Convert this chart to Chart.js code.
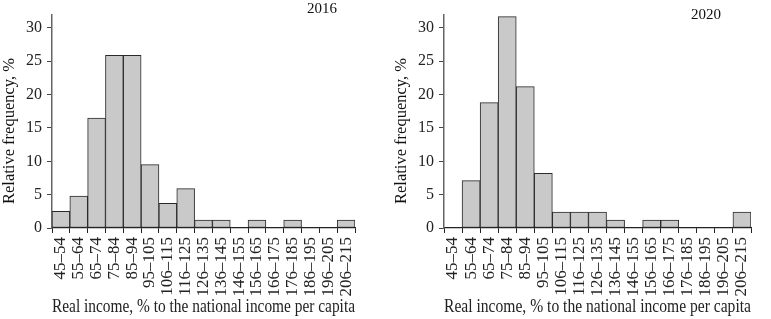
<!DOCTYPE html>
<html>
<head>
<meta charset="utf-8">
<script src="https://cdn.jsdelivr.net/npm/chart.js@4"></script>
<style>
  body { margin: 0; background: #fff; }
  .wrap { display: flex; width: 771px; height: 319px; }
  canvas { display: block; }
</style>
</head>
<body>
<div class="wrap">
  <canvas id="c2016" width="385" height="319"></canvas>
  <canvas id="c2020" width="386" height="319"></canvas>
</div>
<script>
const categories = ['45–54', '55–64', '65–74', '75–84', '85–94', '95–105', '106–115', '116–125',
  '126–135', '136–145', '146–155', '156–165', '166–175', '176–185', '186–195', '196–205', '206–215'];
const freq2016 = [2.5, 4.8, 16.5, 25.9, 25.9, 9.5, 3.7, 5.9, 1.2, 1.2, 0, 1.2, 0, 1.2, 0, 0, 1.2];
const freq2020 = [0, 7.1, 18.8, 31.7, 21.2, 8.2, 2.4, 2.4, 2.4, 1.2, 0, 1.2, 1.2, 0, 0, 0, 2.4];
const yTicks = [0, 5, 10, 15, 20, 25, 30];

const serif = 'Liberation Serif';

// year in the upper right corner and the vertical axis title
const labels = {
  id: 'labels',
  afterDraw(chart, args, opts) {
    const c = chart.ctx;
    c.save();
    c.fillStyle = '#111';
    c.textBaseline = 'middle';
    c.font = '15px "' + serif + '"';
    c.textAlign = 'left';
    c.fillText(opts.year, opts.yearX, opts.yearY);
    c.font = '16.5px "' + serif + '"';
    c.textAlign = 'center';
    c.translate(opts.titleX, opts.titleY);
    c.rotate(-Math.PI / 2);
    c.fillText('Relative frequency, %', 0, 0);
    c.restore();
  }
};

function makeChart(id, values, year, axisW, padRight, pos) {
  return new Chart(document.getElementById(id), {
    type: 'bar',
    data: {
      labels: categories,
      datasets: [{
        data: values,
        backgroundColor: '#c9c9c9',
        borderColor: '#2a2a2a',
        borderWidth: 1,
        borderSkipped: false,
        barPercentage: 1,
        categoryPercentage: 1,
      }]
    },
    options: {
      responsive: false,
      animation: false,
      layout: { padding: { top: 2, right: padRight, left: 0, bottom: 0 } },
      plugins: {
        legend: { display: false },
        tooltip: { enabled: false },
        labels: Object.assign({ year: year }, pos),
      },
      scales: {
        x: {
          grid: { offset: true, drawOnChartArea: false, tickLength: 5, color: '#222', lineWidth: 1 },
          border: { color: '#222', width: 1.2 },
          ticks: {
            minRotation: 90, maxRotation: 90, autoSkip: false, padding: 4,
            color: '#222', font: { family: serif, size: 17 },
          },
          title: {
            display: true,
            text: 'Real income, % to the national income per capita',
            color: '#222',
            font: { family: serif, size: 18 },
            padding: { top: 0, bottom: 1 },
          },
          afterFit(scale) { scale.height = 91; },
        },
        y: {
          min: 0, max: 32,
          afterBuildTicks(scale) { scale.ticks = yTicks.map(v => ({ value: v })); },
          grid: { drawOnChartArea: false, tickLength: 5, color: '#444' },
          border: { color: '#666', width: 1.5 },
          ticks: { color: '#222', padding: 5, font: { family: serif, size: 16 } },
          afterFit(scale) { scale.width = axisW; },
        }
      }
    },
    plugins: [labels]
  });
}

makeChart('c2016', freq2016, '2016', 52, 30, { yearX: 307, yearY: 9, titleX: 10, titleY: 131 });
makeChart('c2020', freq2020, '2020', 59, 20, { yearX: 306, yearY: 15, titleX: 17, titleY: 131 });
</script>
</body>
</html>
